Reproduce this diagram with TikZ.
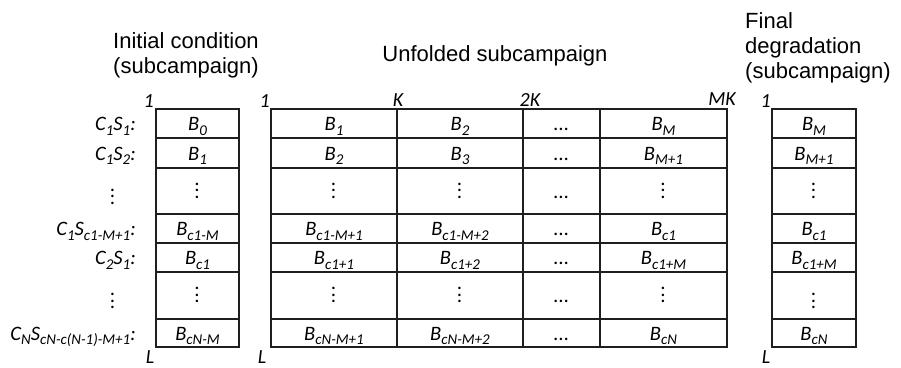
\documentclass[tikz,border=0pt]{standalone}
\usepackage{fontspec}
\setmainfont{Carlito}
\newfontfamily\headfont{Liberation Sans}

% lowered index as printed in the cells
\newcommand\idx[1]{\raisebox{-4.5pt}{\fontsize{15}{15}\selectfont #1}}
\newcommand\B[1]{B\idx{#1}}
% stacked dots for skipped rows
\newcommand\vdts{\vbox{\baselineskip=6.5pt\lineskiplimit=-20pt\hbox{.}\hbox{.}\hbox{.}}}
\newcommand\vdtslow{\raisebox{-6pt}{\vdts}}

\tikzset{
  gridcell/.style={draw=black!88, line width=1.1pt, inner sep=0pt, outer sep=0pt,
    text height=16pt, text depth=2pt,
    font=\fontsize{20.5}{20.5}\selectfont\itshape},
  rowlab/.style={inner sep=0pt, text height=16pt, text depth=2pt, anchor=east,
    font=\fontsize{20.5}{20.5}\selectfont\itshape},
  marklab/.style={inner sep=0pt, font=\fontsize{20}{20}\selectfont\itshape},
  headlab/.style={inner sep=0pt, font=\headfont\fontsize{22}{25}\selectfont}
}

% one cell: name, x1, y1, x2, y2, text
\newcommand\cellnode[6]{%
  \node[gridcell, minimum width={(#4-#2)*1pt}, minimum height={(#5-#3)*1pt}]
    (#1) at ({(#2+#4)/2},{(#3+#5)/2}) {#6};}

% one row of all three tables: id, top, bottom, initial, four unfolded, final
\newcommand\tablerow[9]{%
  \cellnode{ic#1}{156}{#2}{239}{#3}{#4}%
  \cellnode{ua#1}{271}{#2}{397}{#3}{#5}%
  \cellnode{ub#1}{397}{#2}{523}{#3}{#6}%
  \cellnode{uc#1}{523}{#2}{600}{#3}{#7}%
  \cellnode{ud#1}{600}{#2}{727}{#3}{#8}%
  \cellnode{fd#1}{772}{#2}{856}{#3}{#9}}

\begin{document}
\begin{tikzpicture}[x=1pt, y=-1pt]
\useasboundingbox (0,0) rectangle (901,367);

% headings (base anchor sits on the last line)
\node[headlab, align=center, anchor=base] (hinit) at (186,73.5)
  {Initial condition\\(subcampaign)};
\node[headlab, anchor=base] (hunf) at (495,61) {Unfolded subcampaign};
\node[headlab, align=left, anchor=base west] (hfin) at (745,78)
  {Final\\degradation\\(subcampaign)};

% table rows
\tablerow{1}{109}{138}{\B{0}}{\B{1}}{\B{2}}{...}{\B{M}}{\B{M}}
\tablerow{2}{138}{168}{\B{1}}{\B{2}}{\B{3}}{...}{\B{M+1}}{\B{M+1}}
\tablerow{3}{168}{214}{\vdts}{\vdts}{\vdts}{...}{\vdts}{\vdts}
\tablerow{4}{214}{243}{\B{c1-M}}{\B{c1-M+1}}{\B{c1-M+2}}{...}{\B{c1}}{\B{c1}}
\tablerow{5}{243}{272}{\B{c1}}{\B{c1+1}}{\B{c1+2}}{...}{\B{c1+M}}{\B{c1+M}}
\tablerow{6}{272}{319}{\vdts}{\vdts}{\vdts}{...}{\vdts}{\vdtslow}
\tablerow{7}{319}{347}{\B{cN-M}}{\B{cN-M+1}}{\B{cN-M+2}}{...}{\B{cN}}{\B{cN}}

% row labels
\node[rowlab] (r1) at (136,123.5) {C\idx{1}S\idx{1}:};
\node[rowlab] (r2) at (136,153) {C\idx{1}S\idx{2}:};
\node[rowlab, anchor=center] (r3) at (113,191) {\vdtslow};
\node[rowlab] (r4) at (136,228.5) {C\idx{1}S\idx{c1-M+1}:};
\node[rowlab] (r5) at (136,257.5) {C\idx{2}S\idx{1}:};
\node[rowlab, anchor=center] (r6) at (113,295.5) {\vdtslow};
\node[rowlab] (r7) at (136,333) {C\idx{N}S\idx{cN-c(N-1)-M+1}:};

% index marks along the edges
\node[marklab, anchor=base east] (m1) at (154,107) {1};
\node[marklab, anchor=base east] (m2) at (270,107) {1};
\node[marklab, anchor=base] (m3) at (398,106) {K};
\node[marklab, anchor=base] (m4) at (530,106) {2K};
\node[marklab, anchor=base] (m5) at (722,105) {MK};
\node[marklab, anchor=base east] (m6) at (771,107) {1};
\node[marklab, anchor=base] (l1) at (150,363) {L};
\node[marklab, anchor=base] (l2) at (262,363) {L};
\node[marklab, anchor=base] (l3) at (766,363) {L};
\end{tikzpicture}
\end{document}
